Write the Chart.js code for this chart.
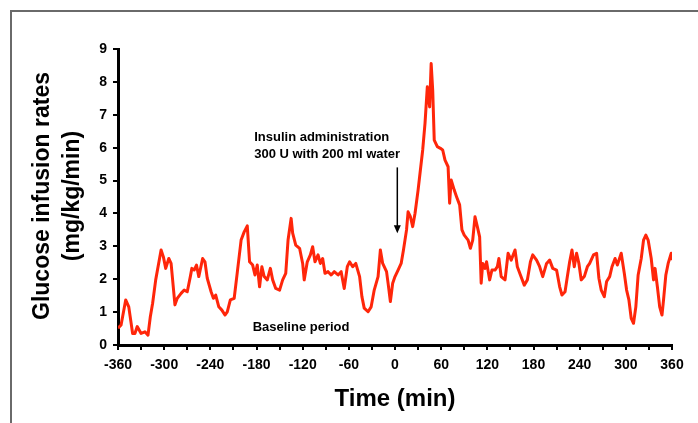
<!DOCTYPE html>
<html>
<head>
<meta charset="utf-8">
<script src="https://cdn.jsdelivr.net/npm/chart.js@4/dist/chart.umd.min.js"></script>
<style>
  html, body { margin: 0; padding: 0; background: #fff; }
  canvas { display: block; }
</style>
</head>
<body>
<canvas id="chart_glucose" width="698" height="423"></canvas>
<script>
// time (min) vs glucose infusion rate (mg/kg/min)
const times = [
  -360, -356, -350, -346, -341, -338, -335, -330, -325, -321, -318, -315, -311, -306, -304, -301,
  -298, -294, -291, -286, -283, -278, -274, -270, -266, -264, -261, -258, -255, -250, -247, -244,
  -239, -236, -233, -229, -225, -221, -218, -214, -209, -205, -200, -196, -192, -189, -185, -182,
  -179, -176, -173, -170, -166, -162, -159, -155, -150, -146, -142, -139, -135, -133, -129, -124,
  -120, -118, -114, -110, -107, -104, -100, -97, -94, -91, -87, -83, -79, -74, -70, -66,
  -62, -59, -55, -51, -46, -43, -40, -35, -31, -27, -22, -19, -16, -11, -9, -6,
  -3, 0, 4, 8, 11, 15, 17, 20, 23, 26, 30, 33, 36, 39, 42, 45,
  47, 49, 51, 55, 59, 62, 65, 69, 71, 73, 77, 80, 84, 87, 90, 95,
  98, 101, 104, 107, 110, 112, 114, 117, 119, 123, 126, 130, 133, 135, 138, 143,
  147, 151, 156, 159, 163, 168, 172, 176, 179, 184, 188, 192, 197, 201, 205, 210,
  214, 217, 221, 224, 227, 230, 233, 236, 239, 242, 246, 250, 253, 258, 262, 265,
  268, 272, 275, 279, 282, 286, 289, 294, 298, 301, 304, 307, 310, 313, 316, 320,
  323, 326, 329, 333, 336, 338, 341, 344, 347, 349, 352, 355, 359, 360
];
const rates = [
  0.51, 0.61, 1.37, 1.16, 0.35, 0.35, 0.56, 0.35, 0.40, 0.30, 0.86, 1.27, 1.98, 2.63, 2.89, 2.68,
  2.33, 2.63, 2.48, 1.22, 1.42, 1.57, 1.67, 1.62, 2.08, 2.33, 2.28, 2.43, 2.08, 2.63, 2.53, 2.03,
  1.62, 1.42, 1.52, 1.16, 1.06, 0.91, 1.01, 1.37, 1.42, 2.20, 3.19, 3.44, 3.62, 2.53, 2.43, 2.13,
  2.43, 1.77, 2.38, 2.08, 1.98, 2.33, 1.98, 1.72, 1.67, 1.98, 2.18, 3.19, 3.85, 3.40, 3.04, 2.94,
  2.48, 1.98, 2.53, 2.74, 2.99, 2.53, 2.74, 2.48, 2.63, 2.18, 2.23, 2.13, 2.23, 2.13, 2.23, 1.72,
  2.38, 2.53, 2.38, 2.48, 2.08, 1.47, 1.12, 1.01, 1.16, 1.67, 2.08, 2.89, 2.48, 2.23, 1.88, 1.32,
  1.88, 2.08, 2.28, 2.48, 2.89, 3.50, 4.05, 3.90, 3.60, 4.00, 4.71, 5.32, 5.93, 6.74, 7.85, 7.24,
  8.56, 7.75, 6.23, 6.03, 5.98, 5.93, 5.62, 5.42, 4.31, 5.02, 4.71, 4.51, 4.26, 3.50, 3.34, 3.19,
  2.94, 3.19, 3.90, 3.60, 3.29, 1.88, 2.48, 2.33, 2.53, 1.98, 2.28, 2.28, 2.38, 2.63, 2.08, 1.98,
  2.79, 2.58, 2.89, 2.38, 2.13, 1.82, 1.98, 2.53, 2.74, 2.58, 2.38, 2.08, 2.48, 2.58, 2.33, 2.28,
  1.77, 1.52, 1.62, 2.08, 2.53, 2.89, 2.38, 2.79, 2.48, 1.98, 2.08, 2.38, 2.48, 2.74, 2.79, 2.03,
  1.67, 1.47, 1.93, 2.08, 2.38, 2.63, 2.43, 2.79, 2.18, 1.67, 1.37, 0.81, 0.66, 1.16, 2.13, 2.63,
  3.19, 3.34, 3.19, 2.63, 1.98, 2.33, 1.77, 1.16, 0.91, 1.37, 2.13, 2.48, 2.79, 2.58
];

const xTicks = [-360, -300, -240, -180, -120, -60, 0, 60, 120, 180, 240, 300, 360];
const yTicks = [0, 1, 2, 3, 4, 5, 6, 7, 8, 9];

const FONT = "'Liberation Sans', Arial, Helvetica, sans-serif";
const RED = "rgb(255, 38, 10)";

// frame, titles, annotation and arrow
const decorations = {
  id: "decorations",
  afterDraw(chart) {
    const { ctx, chartArea, scales } = chart;
    const x = scales.x;
    const y = scales.y;
    ctx.save();

    // grey frame (top + left only)
    ctx.strokeStyle = "#6a6a6a";
    ctx.lineWidth = 2;
    ctx.beginPath();
    ctx.moveTo(11, 423);
    ctx.lineTo(11, 11);
    ctx.lineTo(698, 11);
    ctx.stroke();

    ctx.fillStyle = "#000";

    // y title, two lines, rotated
    const midY = (chartArea.top + chartArea.bottom) / 2 - 1;
    ctx.font = "bold 23px " + FONT;
    ctx.textAlign = "center";
    ctx.textBaseline = "middle";
    ctx.save();
    ctx.translate(43, midY);
    ctx.rotate(-Math.PI / 2);
    ctx.fillText("Glucose infusion rates", 0, 0);
    ctx.restore();
    ctx.save();
    ctx.translate(73, midY);
    ctx.rotate(-Math.PI / 2);
    ctx.fillText("(mg/kg/min)", 0, 0);
    ctx.restore();

    // x title
    ctx.font = "bold 24px " + FONT;
    ctx.fillText("Time (min)", x.getPixelForValue(0), 399);

    // annotations
    ctx.font = "bold 13px " + FONT;
    ctx.textAlign = "left";
    const ax = x.getPixelForValue(-183);
    ctx.fillText("Insulin administration", ax, y.getPixelForValue(6.32));
    ctx.fillText("300 U with 200 ml water", ax, y.getPixelForValue(5.8));
    ctx.fillText("Baseline period", x.getPixelForValue(-185), y.getPixelForValue(0.52));

    // arrow
    const arX = x.getPixelForValue(3);
    const y0 = y.getPixelForValue(5.4);
    const y1 = y.getPixelForValue(3.4);
    ctx.strokeStyle = "#000";
    ctx.lineWidth = 1.5;
    ctx.beginPath();
    ctx.moveTo(arX, y0);
    ctx.lineTo(arX, y1 - 6);
    ctx.stroke();
    ctx.beginPath();
    ctx.moveTo(arX - 3.5, y1 - 8);
    ctx.lineTo(arX + 3.5, y1 - 8);
    ctx.lineTo(arX, y1);
    ctx.closePath();
    ctx.fill();

    ctx.restore();
  },
};

const points = times.map((t, i) => ({ x: t, y: rates[i] }));

new Chart(document.getElementById("chart_glucose"), {
  type: "line",
  data: {
    datasets: [
      {
        label: "Glucose infusion rate",
        data: points,
        borderColor: RED,
        borderWidth: 3,
        borderJoinStyle: "round",
        pointRadius: 0,
        tension: 0,
        fill: false,
      },
    ],
  },
  options: {
    responsive: false,
    animation: false,
    devicePixelRatio: 1,
    layout: { padding: { top: 49, right: 26, left: 0, bottom: 0 } },
    plugins: { legend: { display: false }, tooltip: { enabled: false } },
    scales: {
      x: {
        type: "linear",
        min: -360,
        max: 360,
        afterFit: (scale) => { scale.height = 78; },
        afterBuildTicks: (scale) => {
          const t = [];
          for (let v = -360; v <= 360; v += 30) t.push({ value: v });
          scale.ticks = t;
        },
        ticks: {
          autoSkip: false,
          maxRotation: 0,
          padding: 7,
          color: "#000",
          font: { family: FONT, size: 14, weight: "bold" },
          callback: (v) => (xTicks.includes(v) ? String(v) : ""),
        },
        grid: { drawOnChartArea: false, drawTicks: true, tickLength: 5, color: "#000", lineWidth: 2 },
        border: { display: true, color: "#000", width: 3 },
      },
      y: {
        min: 0,
        max: 9,
        afterFit: (scale) => { scale.width = 118; },
        afterBuildTicks: (scale) => { scale.ticks = yTicks.map((v) => ({ value: v })); },
        ticks: {
          padding: 6,
          color: "#000",
          font: { family: FONT, size: 14, weight: "bold" },
        },
        grid: { drawOnChartArea: false, drawTicks: true, tickLength: 5, color: "#000", lineWidth: 2 },
        border: { display: true, color: "#000", width: 3 },
      },
    },
  },
  plugins: [decorations],
});
</script>
</body>
</html>
